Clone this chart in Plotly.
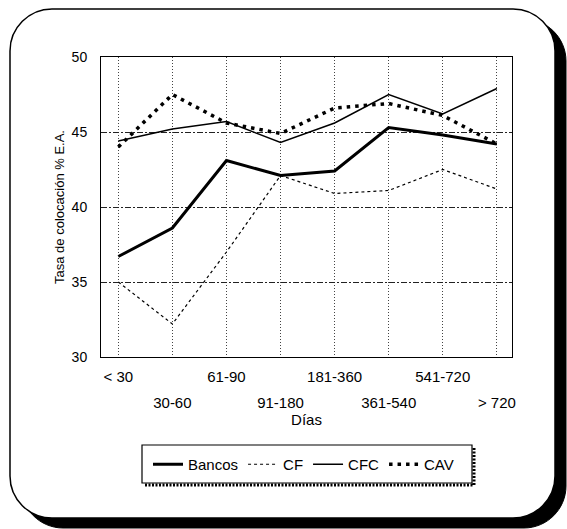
import plotly.graph_objects as go

# ---------------- data ----------------
categories = ["< 30", "30-60", "61-90", "91-180", "181-360", "361-540", "541-720", "> 720"]
bancos = [36.7, 38.6, 43.1, 42.1, 42.4, 45.3, 44.8, 44.2]
cf = [35.0, 32.2, 37.0, 42.1, 40.9, 41.1, 42.5, 41.2]
cfc = [44.4, 45.2, 45.7, 44.3, 45.6, 47.5, 46.2, 47.9]
cav = [44.0, 47.5, 45.6, 44.9, 46.6, 46.9, 46.1, 44.2]
y_ticks = [30, 35, 40, 45, 50]

# ---------------- geometry (pixels) ----------------
W, H = 567, 529
PL, PR, PT, PB = 101, 512, 57, 357   # plot area box
LG = (142, 445, 472, 483)            # legend box (x0, y0, x1, y1)


def px(x):
    return (x - PL) / (PR - PL)


def py(y):
    return (PB - y) / (PB - PT)


def rounded_path(x0, y0, x1, y1, r):
    k = 0.45  # bezier handle factor
    pts = [
        f"M {px(x0 + r)},{py(y0)}",
        f"L {px(x1 - r)},{py(y0)}",
        f"C {px(x1 - r * k)},{py(y0)} {px(x1)},{py(y0 + r * k)} {px(x1)},{py(y0 + r)}",
        f"L {px(x1)},{py(y1 - r)}",
        f"C {px(x1)},{py(y1 - r * k)} {px(x1 - r * k)},{py(y1)} {px(x1 - r)},{py(y1)}",
        f"L {px(x0 + r)},{py(y1)}",
        f"C {px(x0 + r * k)},{py(y1)} {px(x0)},{py(y1 - r * k)} {px(x0)},{py(y1 - r)}",
        f"L {px(x0)},{py(y0 + r)}",
        f"C {px(x0)},{py(y0 + r * k)} {px(x0 + r * k)},{py(y0)} {px(x0 + r)},{py(y0)}",
        "Z",
    ]
    return " ".join(pts)


FONT = "Liberation Sans, Arial, sans-serif"

fig = go.Figure()
fig.add_trace(go.Scatter(x=categories, y=bancos, name="Bancos", mode="lines",
                         line=dict(color="black", width=3)))
fig.add_trace(go.Scatter(x=categories, y=cf, name="CF", mode="lines",
                         line=dict(color="black", width=1.2, dash="3px,3px")))
fig.add_trace(go.Scatter(x=categories, y=cfc, name="CFC", mode="lines",
                         line=dict(color="black", width=1.5)))
fig.add_trace(go.Scatter(x=categories, y=cav, name="CAV", mode="lines",
                         line=dict(color="black", width=3.5, dash="3.5px,5px")))
# invisible carrier so the second (staggered-label) x axis is drawn
fig.add_trace(go.Scatter(x=categories, y=bancos, xaxis="x2", mode="lines",
                         line=dict(color="rgba(0,0,0,0)", width=0),
                         hoverinfo="skip", showlegend=False))

even_text = [c if i % 2 == 0 else "" for i, c in enumerate(categories)]
odd_text = [c if i % 2 == 1 else "" for i, c in enumerate(categories)]

xr = [-0.32, len(categories) - 1 + 0.28]

lx0, ly0, lx1, ly1 = LG

fig.update_layout(
    width=W, height=H,
    margin=dict(l=PL, r=W - PR, t=PT, b=H - PB, pad=0, autoexpand=False),
    paper_bgcolor="white",
    plot_bgcolor="rgba(0,0,0,0)",
    font=dict(family=FONT, color="black", size=13),
    xaxis=dict(
        type="category", range=xr,
        tickmode="array", tickvals=categories, ticktext=even_text,
        showgrid=True, gridcolor="#444", griddash="1px,2px", gridwidth=1,
        showline=True, mirror=True, linecolor="black", linewidth=1,
        ticks="", tickfont=dict(size=15), ticklabelstandoff=6,
        zeroline=False, automargin=False,
    ),
    xaxis2=dict(
        type="category", overlaying="x", anchor="y", side="bottom", range=xr,
        tickmode="array", tickvals=categories, ticktext=odd_text,
        showgrid=False, showline=False, zeroline=False,
        ticks="", tickfont=dict(size=15), ticklabelstandoff=35,
        title=dict(text="Días", font=dict(size=15), standoff=2),
        automargin=False,
    ),
    yaxis=dict(
        range=[30, 50], tickmode="array", tickvals=y_ticks,
        showgrid=True, gridcolor="#222", griddash="6px,2px,2px,2px", gridwidth=1,
        showline=True, mirror=True, linecolor="black", linewidth=1,
        ticks="", tickfont=dict(size=14), ticklabelstandoff=10,
        zeroline=False, automargin=False,
        title=dict(text="Tasa de colocación % E.A.", font=dict(size=13), standoff=4),
    ),
    legend=dict(
        orientation="h", x=px(lx0 + 6), xanchor="left", y=py(ly0 + 3), yanchor="top",
        borderwidth=0, bgcolor="rgba(0,0,0,0)",
        itemwidth=30, font=dict(size=15),
    ),
    showlegend=True,
    shapes=[
        # outer rounded frame with drop shadow
        dict(type="path", xref="paper", yref="paper", layer="below",
             path=rounded_path(21, 19, 566, 528, 42), fillcolor="black",
             line=dict(color="black", width=1)),
        dict(type="path", xref="paper", yref="paper", layer="below",
             path=rounded_path(10, 9, 555, 518, 42), fillcolor="white",
             line=dict(color="black", width=1.5)),
        # legend box and its dotted shadow
        dict(type="rect", xref="paper", yref="paper", layer="below",
             x0=px(lx0), x1=px(lx1), y0=py(ly1), y1=py(ly0),
             fillcolor="white", line=dict(color="black", width=1.2)),
        dict(type="path", xref="paper", yref="paper", layer="below",
             path=f"M {px(lx0 + 3)},{py(ly1 + 2)} L {px(lx1 + 2)},{py(ly1 + 2)} "
                  f"L {px(lx1 + 2)},{py(ly0 + 3)}",
             line=dict(color="black", width=3, dash="2px,1.5px")),
    ],
)

fig.write_html("out.html", config={"displayModeBar": False},
               post_script="document.body.style.margin='0';")
